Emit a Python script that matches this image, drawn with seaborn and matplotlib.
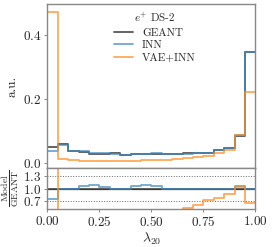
import numpy as np
import pandas as pd
import matplotlib
matplotlib.use("Agg")
import matplotlib.pyplot as plt
import seaborn as sns

# lambda_20 histogram, 20 bins on [0, 1], normalised (a.u.)
bin_edges = np.linspace(0.0, 1.0, 21)
geant = [0.050, 0.058, 0.037, 0.034, 0.027, 0.029, 0.030, 0.026, 0.028, 0.027,
         0.028, 0.028, 0.029, 0.030, 0.032, 0.032, 0.040, 0.046, 0.083, 0.347]
inn = [0.0375, 0.057, 0.037, 0.036, 0.0295, 0.030, 0.0294, 0.026, 0.0294, 0.029,
       0.0297, 0.0277, 0.0287, 0.0293, 0.032, 0.032, 0.040, 0.046, 0.088, 0.347]
vae_inn = [0.470, 0.013, 0.0085, 0.0075, 0.007, 0.007, 0.007, 0.007, 0.0072, 0.0078,
           0.0085, 0.0105, 0.0115, 0.0157, 0.019, 0.023, 0.031, 0.040, 0.086, 0.220]

series_names = ["GEANT", "INN", "VAE+INN"]
series_colors = {"GEANT": "#3a3a3a", "INN": "#3d8ac4", "VAE+INN": "#ff8c1f"}
series_alpha = {"GEANT": 0.85, "INN": 0.75, "VAE+INN": 0.75}


def step_frame(values):
    # repeat last value so steps-post closes the final bin
    vals = list(values) + [values[-1]]
    return pd.DataFrame({"x": bin_edges, "y": vals})


sns.set_theme(style="ticks")
plt.rcParams["font.family"] = "serif"
plt.rcParams["font.serif"] = ["cmr10", "DejaVu Serif"]
plt.rcParams["mathtext.fontset"] = "cm"
plt.rcParams["axes.formatter.use_mathtext"] = True
plt.rcParams["axes.unicode_minus"] = False

fig = plt.figure(figsize=(2.74, 2.47), dpi=100)
gs = fig.add_gridspec(2, 1, height_ratios=[4, 1], hspace=0.0,
                      left=0.173, right=0.932, top=0.982, bottom=0.154)
ax = fig.add_subplot(gs[0])
axr = fig.add_subplot(gs[1], sharex=ax)

data = {"GEANT": geant, "INN": inn, "VAE+INN": vae_inn}
for name in series_names:
    sns.lineplot(data=step_frame(data[name]), x="x", y="y", drawstyle="steps-post",
                 color=series_colors[name], alpha=series_alpha[name],
                 linewidth=1.3, label=name, ax=ax)

for name in series_names:
    ratio = np.array(data[name]) / np.array(geant)
    sns.lineplot(data=step_frame(ratio), x="x", y="y", drawstyle="steps-post",
                 color=series_colors[name], alpha=series_alpha[name],
                 linewidth=1.3, legend=False, ax=axr)

axr.axhline(1.0, color="#444444", lw=0.9, zorder=0)
axr.axhline(1.3, color="#666666", lw=0.7, ls=":", zorder=0)
axr.axhline(0.7, color="#666666", lw=0.7, ls=":", zorder=0)

ax.set_xlim(0, 1)
ax.set_ylim(-0.016, 0.495)
ax.set_yticks([0.0, 0.2, 0.4])
ax.set_ylabel("a.u.", fontsize=9.5, labelpad=3)
ax.set_xlabel("")
ax.tick_params(axis="x", labelbottom=False, length=0)

axr.set_ylim(0.5, 1.5)
axr.set_yticks([0.7, 1.0, 1.3])
axr.set_xticks([0.0, 0.25, 0.5, 0.75, 1.0])
axr.set_ylabel(r"$\frac{\rm Model}{\rm GEANT}$", fontsize=10, labelpad=1)
axr.set_xlabel(r"$\lambda_{20}$", fontsize=10, labelpad=1)

for a in (ax, axr):
    a.tick_params(labelsize=9.5, length=2.5, width=0.7, color="#888888", pad=2)
    for s in a.spines.values():
        s.set_color("#888888")
        s.set_linewidth(1.0)

leg = ax.legend(title=r"$e^{+}$ DS-2", loc="upper left",
                bbox_to_anchor=(0.29, 1.0), frameon=False, fontsize=8,
                title_fontsize=8, handlelength=1.7, handletextpad=0.8,
                borderaxespad=0.2, labelspacing=0.25)

fig.savefig("out.png", dpi=100)
